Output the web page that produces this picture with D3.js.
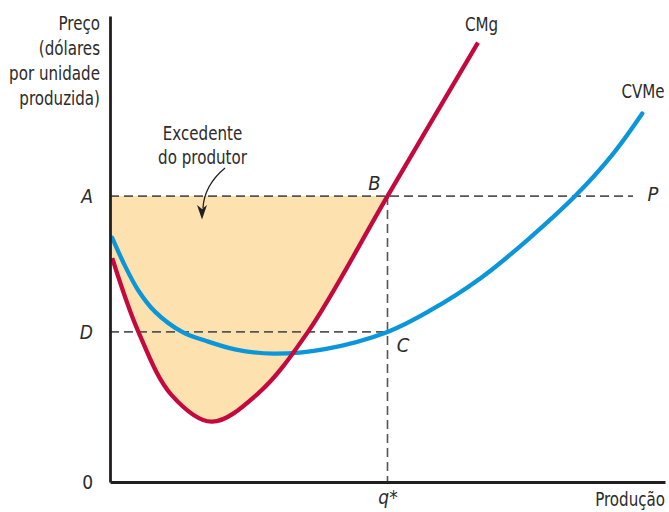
<!DOCTYPE html>
<html>
<head>
<meta charset="utf-8">
<script src="https://cdn.jsdelivr.net/npm/d3@7"></script>
<style>
  html, body { margin: 0; padding: 0; background: #fff; }
  svg { display: block; }
  text { font-family: "Liberation Sans Narrow", "DejaVu Sans Condensed", "Roboto", sans-serif; fill: #2b2b2b; }
  .it { font-style: italic; }
</style>
</head>
<body>
<svg id="chart" width="669" height="512"></svg>
<script>
// Price levels (A = market price P, D = average variable cost at q*)
const priceA = 10;
const priceD = 5.25;
const qStar = 5;

// Marginal cost curve (CMg): quantity, price
const cmgQ = [0.04, 0.51, 1.11, 1.83, 2.67, 3.57, 5.00, 6.63];
const cmgP = [7.83, 5.26, 3.04, 2.11, 3.10, 5.26, 10.0, 15.37];

// Average variable cost curve (CVMe): quantity, price
const cvmeQ = [0.04, 0.27, 0.51, 0.81, 1.30, 1.71, 2.25, 2.94, 3.87, 5.00, 5.77, 6.67, 7.53, 8.38, 9.06, 9.59];
const cvmeP = [8.54, 7.56, 6.70, 5.96, 5.25, 4.95, 4.64, 4.49, 4.65, 5.25, 6.00, 7.12, 8.48, 10.0, 11.47, 12.89];

// Axis tick labels
const yTicks = [0, priceD, priceA];
const yTickLabels = ["0", "D", "A"];
const xTicks = [qStar];
const xTickLabels = ["q*"];

const svg = d3.select("#chart");
const x = d3.scaleLinear().domain([0, 10]).range([110, 665]);
const y = d3.scaleLinear().domain([0, 16.3]).range([482, 16]);

const cmg = cmgQ.map((q, i) => [q, cmgP[i]]);
const cvme = cvmeQ.map((q, i) => [q, cvmeP[i]]);

const line = d3.line().x(d => x(d[0])).y(d => y(d[1])).curve(d3.curveCatmullRom.alpha(0.5));

// Condensed text helper: narrow the glyphs horizontally
function label(px, py, str, opts = {}) {
  const g = svg.append("g").attr("transform", `translate(${px},${py}) scale(${opts.sx || 0.84},1)`);
  const t = g.append("text").attr("text-anchor", opts.anchor || "middle")
    .style("font-size", (opts.size || 20) + "px").text(str);
  if (opts.italic) t.classed("it", true);
  return t;
}

// Producer surplus: below price A, above CMg, from the price axis to q*
const surplusCurve = cmg.filter(d => d[0] <= qStar);
const surplusD = "M" + x(0) + "," + y(priceA) + "L" + x(0) + "," + y(cmg[0][1]) +
  line(surplusCurve).replace(/^M/, "L") + "L" + x(qStar) + "," + y(priceA) + "Z";
svg.append("path").attr("d", surplusD).attr("fill", "#fde2b0").attr("stroke", "none");

// Dashed guide lines
function guide(x1, y1, x2, y2) {
  svg.append("line").attr("x1", x1).attr("y1", y1).attr("x2", x2).attr("y2", y2)
    .attr("stroke", "#555").attr("stroke-width", 1.6).attr("stroke-dasharray", "9,5");
}
guide(x(0), y(priceA), 633, y(priceA));
guide(x(0), y(priceD), x(qStar), y(priceD));
guide(x(qStar), y(priceA), x(qStar), y(0));

// Curves
svg.append("path").attr("d", line(cvme)).attr("fill", "none")
  .attr("stroke", "#0a96d8").attr("stroke-width", 4.3).attr("stroke-linecap", "round");
svg.append("path").attr("d", line(cmg)).attr("fill", "none")
  .attr("stroke", "#c4093f").attr("stroke-width", 4.3).attr("stroke-linecap", "butt");

// Axes
const yAxis = d3.axisLeft(y).tickValues(yTicks).tickSize(0).tickSizeOuter(0).tickPadding(17)
  .tickFormat((d, i) => yTickLabels[i]);
const gy = svg.append("g").attr("transform", `translate(${x(0)},0)`).call(yAxis);
const xAxis = d3.axisBottom(x).tickValues(xTicks).tickSize(0).tickSizeOuter(0).tickPadding(9)
  .tickFormat((d, i) => xTickLabels[i]);
const gx = svg.append("g").attr("transform", `translate(0,${y(0)})`).call(xAxis);
[gy, gx].forEach(g => {
  g.select(".domain").attr("stroke", "#231f20").attr("stroke-width", 2.8);
  g.selectAll("text").style("font-size", "19px").attr("fill", "#2b2b2b");
});
gy.selectAll(".tick text").classed("it", (d, i) => i > 0);
gx.selectAll(".tick text").classed("it", true);

// Axis titles
["Preço", "(dólares", "por unidade", "produzida)"].forEach((s, i) =>
  label(100, 30 + i * 25, s, { anchor: "end" }));
label(665, 506, "Produção", { anchor: "end" });

// Curve labels
label(481.5, 30.5, "CMg");
label(643, 98, "CVMe");

// Point labels
label(374.5, 190, "B", { italic: true, sx: 1 });
label(403, 352, "C", { italic: true, sx: 1 });
label(653, 201, "P", { italic: true, sx: 1 });

// Producer surplus annotation with curved arrow
label(202.5, 139.5, "Excedente");
label(202.5, 163.5, "do produtor");
svg.append("path").attr("d", "M225,168 C213,178 204,190 203,208")
  .attr("fill", "none").attr("stroke", "#231f20").attr("stroke-width", 1.3);
svg.append("path").attr("d", "M197,205 L202,219.5 L207,205 L202,209 Z").attr("fill", "#231f20");
</script>
</body>
</html>
